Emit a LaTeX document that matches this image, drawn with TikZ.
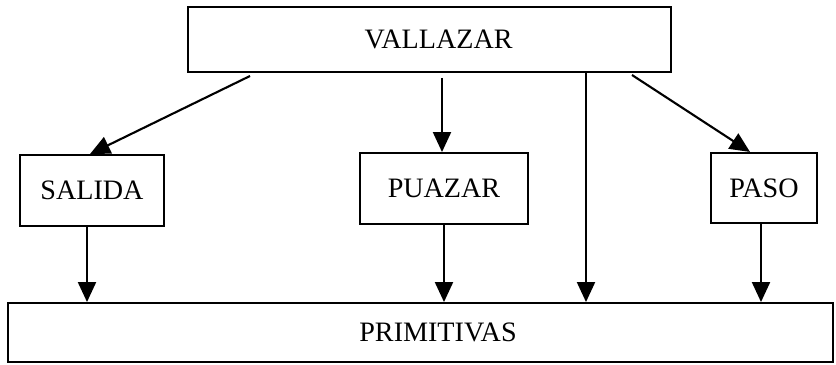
\documentclass[tikz,border=0pt]{standalone}
\usepackage{fontspec}
\setmainfont{Liberation Serif}
\usetikzlibrary{arrows.meta}

\begin{document}
\begin{tikzpicture}[font=\fontsize{20}{23}\selectfont,
    box/.style={draw, line width=1.5pt, inner sep=0pt},
    arr/.style={line width=1.5pt, -{Triangle[length=0.5cm, width=0.45cm]}}]
\useasboundingbox (0,0) rectangle (20.9,9.125);

\node[box, minimum width=12.075cm, minimum height=1.625cm] (vall) at (10.74,8.14) {\hspace*{0.45cm}VALLAZAR};
\node[box, minimum width=3.6cm, minimum height=1.775cm] (sal) at (2.3,4.36) {SALIDA};
\node[box, minimum width=4.2cm, minimum height=1.775cm] (puaz) at (11.1,4.41) {PUAZAR};
\node[box, minimum width=2.65cm, minimum height=1.75cm] (paso) at (19.1,4.425) {PASO};
\node[box, minimum width=20.625cm, minimum height=1.475cm] (prim) at (10.51,0.81) {\hspace*{0.88cm}PRIMITIVAS};

\coordinate (a1) at (6.25,7.225);
\coordinate (a2) at (11.05,7.175);
\coordinate (a3) at (14.65,7.325);
\coordinate (a4) at (15.8,7.25);

\draw[arr] (a1) -- ([xshift=-0.05cm]sal.north);
\draw[arr] (a2) -- (a2 |- puaz.north);
\draw[arr] (a3) -- (a3 |- prim.north);
\draw[arr] (a4) -- ([xshift=-0.35cm]paso.north);

\draw[arr] ([xshift=-0.125cm]sal.south) -- ([xshift=-0.125cm]sal.south |- prim.north);
\draw[arr] (puaz.south) -- (puaz.south |- prim.north);
\draw[arr] ([xshift=-0.075cm]paso.south) -- ([xshift=-0.075cm]paso.south |- prim.north);
\end{tikzpicture}
\end{document}
